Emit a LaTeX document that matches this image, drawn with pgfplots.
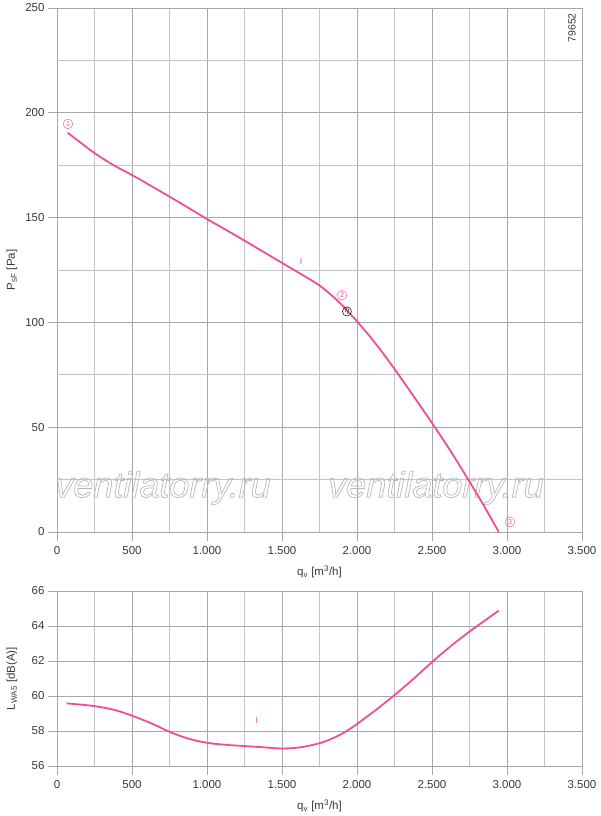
\documentclass[border=0pt]{standalone}
\usepackage{pgfplots}
\pgfplotsset{compat=1.18}
\usepackage{fontspec}
\setmainfont{Liberation Sans}
\definecolor{curve}{HTML}{EE4F93}
\definecolor{gridmaj}{HTML}{A8A8A8}
\definecolor{gridmin}{HTML}{C4C4C4}
\definecolor{txt}{HTML}{3A3A3A}
\definecolor{wm}{HTML}{FFFFFF}
\newcommand{\outlined}[1]{\special{pdf:literal direct 1 Tr 0.7 w 0.72 G}#1\special{pdf:literal direct 0 Tr}}
\pgfplotsset{
  fanstyle/.style={
    scale only axis,
    axis line style={draw=none},
    grid=both,
    major grid style={gridmaj, line width=0.8pt},
    minor grid style={gridmin, line width=0.8pt},
    tick style={gridmaj, line width=0.8pt},
    minor tick length=0pt,
    major tick length=9pt,
    tick align=outside,
    xtick pos=left, ytick pos=left,
    ticklabel style={font=\fontsize{11.5}{13}\selectfont, text=txt},
    xticklabel style={yshift=-2pt},
    label style={font=\fontsize{11.5}{13}\selectfont, text=txt},
    /pgf/number format/.cd, fixed, precision=0, 1000 sep={.}, assume math mode=true,
    /pgfplots/.cd,
    xmin=0, xmax=3500,
    xtick={0,500,...,3500},
    minor xtick={250,750,...,3250},
    xlabel={q\textsubscript{v} [m\textsuperscript{3}/h]},
    ylabel style={at={(axis description cs:-0.0857,0.5)}, rotate=0, anchor=center},
    clip=false,
  }
}
\begin{document}
\begin{tikzpicture}
\begin{axis}[fanstyle,
  at={(57pt,284pt)}, anchor=south west,
  width=525pt, height=524pt,
  ymin=0, ymax=250,
  ytick={0,50,...,250},
  minor ytick={25,75,...,225},
  ylabel={P\textsubscript{sF} [Pa]},
  xlabel style={at={(axis description cs:0.5,-0.0763)}, anchor=center},
]
\node[font=\fontsize{36}{40}\selectfont\itshape, text=wm] at (axis cs:707,21) {\outlined{ventilatorry.ru}};
\node[font=\fontsize{36}{40}\selectfont\itshape, text=wm] at (axis cs:2527,21) {\outlined{ventilatorry.ru}};
\addplot[curve, line width=1.8pt, smooth, tension=0.55] coordinates {
(71,190.5) (160,185.6) (250,180.8) (375,175.1) (500,170.3) (625,165.2) (750,160) (875,154.7) (1000,149.3)
(1125,144.2) (1250,139) (1375,133.7) (1500,128.4) (1625,123.1) (1750,117.6) (1875,110.0) (2000,100.5) (2125,89.8)
(2250,77.8) (2375,65) (2500,52) (2625,38.5) (2750,24) (2850,12) (2945,0)
};
\node[circle, draw=curve, text=curve, inner sep=1.2pt, line width=0.4pt, font=\fontsize{7}{8}\selectfont] at (axis cs:73,194.7) {1};
\node[circle, draw=curve, text=curve, inner sep=1.2pt, line width=0.4pt, font=\fontsize{7}{8}\selectfont] at (axis cs:1900,113) {2};
\node[circle, draw=black, text=black, inner sep=0.8pt, line width=0.5pt, font=\fontsize{8}{8}\selectfont] at (axis cs:1933,105.2) {$\eta$};
\node[circle, draw=curve, text=curve, inner sep=1.2pt, line width=0.4pt, font=\fontsize{7}{8}\selectfont] at (axis cs:3020,4.8) {3};
\node[text=curve, font=\fontsize{9}{10}\selectfont] at (axis cs:1627,129.3) {I};
\node[rotate=90, text=txt, font=\fontsize{10.5}{12}\selectfont] at (axis description cs:0.981,0.962) {79652};
\end{axis}
\begin{axis}[fanstyle,
  at={(57pt,50pt)}, anchor=south west,
  width=525pt, height=175pt,
  ymin=56, ymax=66,
  ytick={56,58,...,66},
  ylabel={L\textsubscript{WA5} [dB(A)]},
  xlabel style={at={(axis description cs:0.5,-0.2286)}, anchor=center},
]
\addplot[curve, line width=1.8pt, smooth, tension=0.55] coordinates {
(64,59.58) (243,59.43) (384,59.2) (499,58.88) (639,58.4) (749,57.96) (869,57.58)
(997,57.33) (1125,57.21) (1250,57.14) (1375,57.07) (1500,57.0) (1625,57.07)
(1750,57.3) (1812,57.49) (1875,57.73) (1937,58.03) (2000,58.4) (2125,59.2) (2250,60.05) (2375,60.97)
(2500,61.94) (2625,62.85) (2750,63.68) (2875,64.45) (2945,64.88)
};
\node[text=curve, font=\fontsize{9}{10}\selectfont] at (axis cs:1333,58.63) {I};
\end{axis}
\pgfresetboundingbox
\path[use as bounding box] (0pt,0pt) rectangle (600pt,816pt);
\end{tikzpicture}
\end{document}
